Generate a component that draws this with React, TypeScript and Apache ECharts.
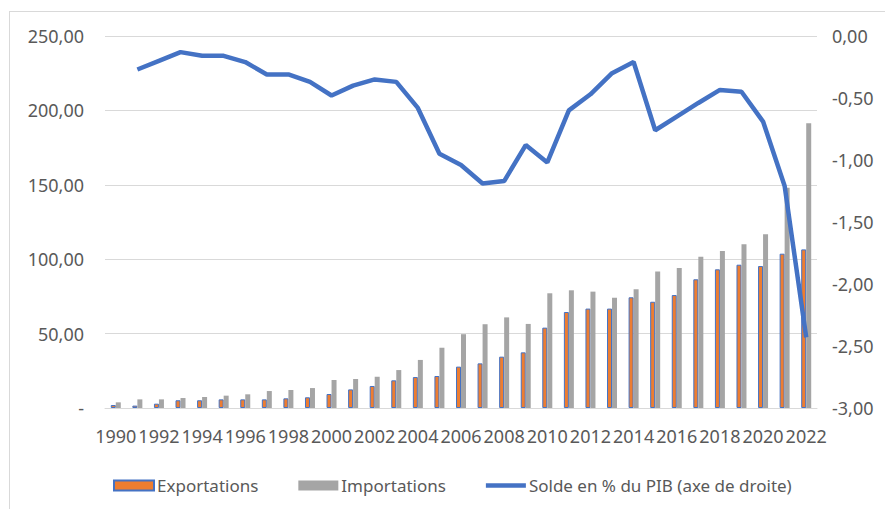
import React, { useEffect, useRef } from "react";
import * as echarts from "echarts";

const years = [
  "1990","1991","1992","1993","1994","1995","1996","1997","1998","1999",
  "2000","2001","2002","2003","2004","2005","2006","2007","2008","2009",
  "2010","2011","2012","2013","2014","2015","2016","2017","2018","2019",
  "2020","2021","2022",
];

const exportations = [
  2.0, 1.6, 2.9, 5.2, 5.2, 5.8, 5.8, 5.8, 6.5, 7.2,
  9.4, 12.5, 14.8, 18.6, 20.8, 21.5, 27.8, 30.0, 34.5, 37.4,
  54.0, 64.5, 66.8, 66.8, 74.4, 71.4, 75.9, 86.5, 93.2, 96.3,
  95.4, 103.7, 106.6,
];

const importations = [
  3.8, 5.8, 5.8, 6.7, 7.4, 8.3, 9.2, 11.4, 12.1, 13.4,
  18.8, 19.5, 21.0, 25.5, 32.3, 40.5, 49.6, 56.3, 60.9, 56.5,
  77.1, 79.1, 78.2, 74.1, 79.8, 91.8, 94.1, 101.7, 105.5, 110.0,
  116.7, 148.0, 191.3,
];

const solde = [
  null, -0.27, -0.2, -0.13, -0.16, -0.16, -0.21, -0.31, -0.31, -0.37,
  -0.48, -0.4, -0.35, -0.37, -0.58, -0.95, -1.04, -1.19, -1.17, -0.88,
  -1.02, -0.6, -0.47, -0.3, -0.21, -0.76, -0.65, -0.54, -0.435, -0.45,
  -0.69, -1.21, -2.43,
];

const seriesNames = ["Exportations", "Importations", "Solde en % du PIB (axe de droite)"];

const FONT = "'Noto Sans', sans-serif";
const TXT = "#595959";
const GRID = "#D9D9D9";

const fmt = (v: number) => (v === 0 ? "-" : v.toFixed(2).replace(".", ","));
const fmtR = (v: number) => v.toFixed(2).replace(".", ",");

export default function App() {
  const ref = useRef<HTMLDivElement>(null);
  useEffect(() => {
    if (!ref.current) return;
    const chart = echarts.init(ref.current, null, { renderer: "svg" });
    chart.setOption({
      animation: false,
      backgroundColor: "#ffffff",
      textStyle: { fontFamily: FONT },
      grid: { left: 105, right: 68, top: 36, bottom: 101, containLabel: false },
      graphic: [
        { type: "line", shape: { x1: 9.5, y1: 11, x2: 9.5, y2: 509 }, style: { stroke: GRID, lineWidth: 1 } },
        { type: "line", shape: { x1: 9, y1: 11.5, x2: 885, y2: 11.5 }, style: { stroke: GRID, lineWidth: 1 } },
      ],
      legend: {
        left: 108,
        top: 472,
        itemWidth: 40,
        itemHeight: 10,
        itemGap: 40,
        symbolKeepAspect: true,
        textStyle: { fontSize: 17, color: TXT, fontFamily: FONT, padding: [0, 0, 0, -2] },
        data: [
          { name: seriesNames[0], icon: "rect" },
          { name: seriesNames[1], icon: "rect" },
          { name: seriesNames[2], icon: "path://M0,0 H40 V4.5 H0 Z" },
        ],
      },
      xAxis: {
        type: "category",
        data: years,
        axisLine: { lineStyle: { color: GRID, width: 1 } },
        axisTick: { show: false },
        axisLabel: {
          interval: 1,
          showMinLabel: true,
          showMaxLabel: true,
          hideOverlap: false,
          color: TXT,
          fontSize: 18,
          margin: 19,
          fontFamily: FONT,
        },
      },
      yAxis: [
        {
          type: "value",
          min: 0,
          max: 250,
          interval: 50,
          axisLine: { show: false },
          axisTick: { show: false },
          splitLine: { lineStyle: { color: GRID, width: 1 } },
          axisLabel: { color: TXT, fontSize: 18, margin: 21, formatter: fmt, fontFamily: FONT },
        },
        {
          type: "value",
          min: -3,
          max: 0,
          interval: 0.5,
          position: "right",
          axisLine: { show: false },
          axisTick: { show: false },
          splitLine: { show: false },
          axisLabel: { color: TXT, fontSize: 18, margin: 15, formatter: fmtR, fontFamily: FONT },
        },
      ],
      series: [
        {
          name: seriesNames[0],
          type: "bar",
          data: exportations,
          barWidth: 5,
          barGap: "0%",
          itemStyle: { color: "#ED7D31", borderColor: "#4472C4", borderWidth: 1 },
        },
        {
          name: seriesNames[1],
          type: "bar",
          data: importations,
          barWidth: 5,
          barGap: "0%",
          itemStyle: { color: "#A5A5A5" },
        },
        {
          name: seriesNames[2],
          type: "line",
          yAxisIndex: 1,
          data: solde,
          showSymbol: false,
          symbol: "none",
          connectNulls: false,
          lineStyle: { color: "#4472C4", width: 4.5 },
          itemStyle: { color: "#4472C4" },
          z: 5,
        },
      ],
    });
    return () => chart.dispose();
  }, []);
  return (
    <div
      ref={ref}
      style={{ position: "fixed", left: 0, top: 0, width: 885, height: 509, background: "#fff" }}
    />
  );
}
